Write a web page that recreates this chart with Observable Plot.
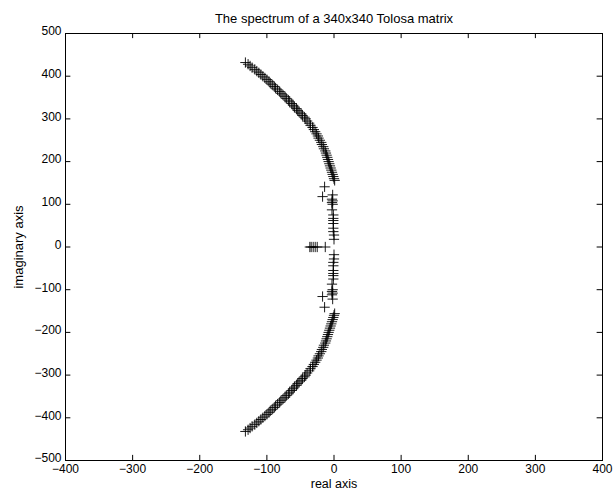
<!DOCTYPE html>
<html><head><meta charset="utf-8">
<script src="https://cdn.jsdelivr.net/npm/d3@7"></script>
<script src="https://cdn.jsdelivr.net/npm/@observablehq/plot@0.6"></script>
<style>body{margin:0;background:#fff}</style>
</head><body><div id="chart"></div>
<script>
const title = "The spectrum of a 340x340 Tolosa matrix";
const xLabel = "real axis";
const yLabel = "imaginary axis";
const xTicks = [-400, -300, -200, -100, 0, 100, 200, 300, 400];
const yTicks = [-500, -400, -300, -200, -100, 0, 100, 200, 300, 400, 500];

// eigenvalues as [real, imaginary]
const arcUpper = [
 [-132,432],[-128,428],[-125,424],[-122,420],[-118,416],[-115,412],[-112,408],[-109,404],[-106,400],
 [-103,396],[-100,392],[-97,388],[-95,384],[-92,380],[-89,376],[-87,372],[-84,368],[-81,364],[-79,360],
 [-76,356],[-73,352],[-71,348],[-68,344],[-66,340],[-63,336],[-61,332],[-59,328],[-56,324],[-54,320],
 [-52,316],[-49,312],[-47,308],[-44,304],[-42,300],[-40,295],[-37,290],[-35,285],[-32,280],[-30,275],
 [-28,270],[-26,265],[-24,260],[-23,255],[-21,250],[-19,245],[-18,240],[-16,235],[-15,230],[-13,225],
 [-12,220],[-11,215],[-10,210],[-9,205],[-8,200],[-7,195],[-6,190],[-5,185],[-4,180],[-3,175],
 [-2,170],[-1,165],[0,160],[1,156]
];
const arcLower = [
 [-132,-432],[-128,-428],[-125,-424],[-122,-420],[-118,-416],[-115,-412],[-112,-408],[-109,-404],[-106,-400],
 [-103,-396],[-100,-392],[-97,-388],[-95,-384],[-92,-380],[-89,-376],[-87,-372],[-84,-368],[-81,-364],[-79,-360],
 [-76,-356],[-73,-352],[-71,-348],[-68,-344],[-66,-340],[-63,-336],[-61,-332],[-59,-328],[-56,-324],[-54,-320],
 [-52,-316],[-49,-312],[-47,-308],[-44,-304],[-42,-300],[-40,-295],[-37,-290],[-35,-285],[-32,-280],[-30,-275],
 [-28,-270],[-26,-265],[-24,-260],[-23,-255],[-21,-250],[-19,-245],[-18,-240],[-16,-235],[-15,-230],[-13,-225],
 [-12,-220],[-11,-215],[-10,-210],[-9,-205],[-8,-200],[-7,-195],[-6,-190],[-5,-185],[-4,-180],[-3,-175],
 [-2,-170],[-1,-165],[0,-160],[1,-156]
];
const columnUpper = [[-2,122],[-3,112],[-2,108],[-3,104],[-2,100],[-3,87],[-1,75],[-1,67],[-1,62],[-1,55],[-1,44],[-1,36],[0,28],[0,18]];
const columnLower = [[-2,-122],[-3,-112],[-2,-108],[-3,-104],[-2,-100],[-3,-87],[-1,-75],[-1,-67],[-1,-62],[-1,-55],[-1,-44],[-1,-36],[0,-28],[0,-18]];
const outliers = [[-14,141],[-17,118],[-17,-116],[-14,-141]];
const realAxis = [[-36,0],[-34,0],[-31,0],[-28,0],[-25,0],[-13,0]];

const pts = [...arcUpper, ...arcLower, ...columnUpper, ...columnLower, ...outliers, ...realAxis]
  .map(([re, im]) => ({re, im}));

const chart = Plot.plot({
  width: 615, height: 493,
  marginLeft: 65, marginRight: 13, marginTop: 33, marginBottom: 33,
  style: {fontFamily: "'Liberation Sans', Arial, sans-serif", fontSize: "12px", background: "#fff", color: "#000"},
  x: {domain: [-400, 400]},
  y: {domain: [-500, 500]},
  marks: [
    Plot.frame({stroke: "#000", strokeWidth: 1}),
    Plot.axisX(xTicks, {tickSize: 0, tickPadding: 4, label: null, fontSize: 12}),
    Plot.axisY(yTicks, {tickSize: 0, tickPadding: 4, label: null, fontSize: 12, dy: -2}),
    Plot.ruleX(xTicks, {x: d => d, y1: -500, y2: -488, stroke: "#000"}),
    Plot.ruleX(xTicks, {x: d => d, y1: 500, y2: 488, stroke: "#000"}),
    Plot.ruleY(yTicks, {y: d => d, x1: -400, x2: -392, stroke: "#000"}),
    Plot.ruleY(yTicks, {y: d => d, x1: 400, x2: 392, stroke: "#000"}),
    Plot.dot(pts, {x: "re", y: "im", symbol: "plus", r: 3.4, stroke: "#000", strokeWidth: 0.9}),
    Plot.text([title], {text: d => d, frameAnchor: "top", dy: -20, fontSize: 13}),
    Plot.text([xLabel], {text: d => d, frameAnchor: "bottom", dy: 27, fontSize: 12.5}),
    Plot.text([yLabel], {text: d => d, frameAnchor: "left", textAnchor: "middle", dx: -47, rotate: -90, fontSize: 13})
  ]
});
document.getElementById("chart").append(chart);
</script></body></html>
